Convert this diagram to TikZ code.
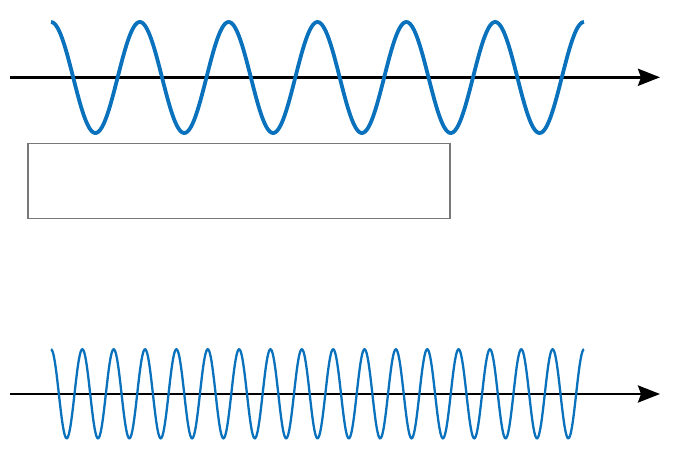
\documentclass[tikz,border=0pt]{standalone}
\usetikzlibrary{arrows.meta}
\definecolor{wave}{RGB}{10,114,188}
\definecolor{frame}{RGB}{120,120,120}
\begin{document}
\begin{tikzpicture}[x=1pt,y=-1pt,line cap=butt,line join=miter,>={Stealth[length=22pt,width=17pt,inset=3pt]}]
			\tikzset{declare function={xa=51;xb=584;},
				axis/.style={->,line width=2.8pt,black},
				slow/.style={wave,line width=3.8pt,smooth,samples=400},
				fast/.style={wave,line width=2.3pt,smooth,samples=900}}
			\useasboundingbox (0,0) rectangle (674,468);
			\coordinate (topstart) at (10,77.3);
			\coordinate (topend) at (660,77.3);
			\coordinate (botstart) at (10,394);
			\coordinate (botend) at (660,394);
			\draw[axis] (topstart)--(topend);
			\draw[axis] (botstart)--(botend);
			\def\f(#1){77.5-55.5*cos(((#1)-xa)*(2160/(xb-xa)))}
			\def\g(#1){393.8-44.5*cos(((#1)-xa)*(6120/(xb-xa)))}
			\draw[slow] plot[domain=xa:xb] (\x,{\f(\x)});
			\draw[fast] plot[domain=xa:xb] (\x,{\g(\x)});
			\node (box) [draw=frame,line width=1.2pt,minimum width=422pt,minimum height=75pt,inner sep=0pt] at (239,180.8) {};
		\end{tikzpicture}
\end{document}
